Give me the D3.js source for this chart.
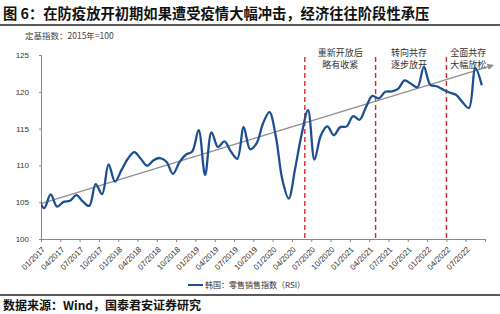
<!DOCTYPE html>
<html>
<head>
<meta charset="utf-8">
<script src="https://cdn.jsdelivr.net/npm/d3@7"></script>
<style>
  body { margin: 0; background: #fff; }
  text { font-family: 'Liberation Sans', Arial, sans-serif; fill: #333; }
  .cjk { font-family: 'Noto Sans CJK SC', sans-serif; }
</style>
</head>
<body>
<div id="chart-area"></div>
<script>
// page size and plot margins
const W = 500;
const H = 314;
const margin = { left: 41, right: 15, top: 55, bottom: 75 };
const width = W - margin.left - margin.right;
const height = H - margin.top - margin.bottom;

// monthly retail sales index (RSI), first value is 12/2016 (clipped by the axis)
const firstMonth = -1;
const rsiValues = [
  105.9,
  104.2, 106.05, 104.4, 105.05, 105.2, 105.95, 105.1, 104.5, 107.45, 106.1, 110.15, 107.8,
  109.35, 110.9, 111.8, 110.9, 109.95, 110.7, 111.0, 110.5, 108.85, 110.4, 111.45, 111.9,
  114.8, 108.7, 114.5, 112.5, 113.25, 111.9, 110.9, 115.2, 112.2, 113.0, 115.7, 117.25,
  113.9, 108.1, 105.5, 109.6, 114.2, 117.5, 110.8, 114.1, 115.3, 114.1, 115.2, 115.3,
  116.7, 116.2, 117.9, 119.45, 119.1, 120.0, 120.05, 120.4, 121.55, 121.1, 120.6, 123.4,
  120.95, 120.75, 120.3, 119.9, 119.6, 118.6, 117.8, 123.2, 120.9,
];

// x tick labels, one every 3 months starting 01/2017
const tickLabels = [
  '01/2017', '04/2017', '07/2017', '10/2017',
  '01/2018', '04/2018', '07/2018', '10/2018',
  '01/2019', '04/2019', '07/2019', '10/2019',
  '01/2020', '04/2020', '07/2020', '10/2020',
  '01/2021', '04/2021', '07/2021', '10/2021',
  '01/2022', '04/2022', '07/2022',
];
const yTicks = [100, 105, 110, 115, 120, 125];

// trend arrow (month index from 01/2017, value)
const trendMonths = [0, 70.2];
const trendValues = [104.8, 123.6];

// reopening phases: dashed line at month start, label position
const phaseMonths = [41, 52, 63]; // 06/2020, 05/2021, 04/2022
const phaseLabelMonths = [46.5, 57.2, 66.4];
const phaseLabels = [
  ['重新开放后', '略有收紧'],
  ['转向共存', '逐步放开'],
  ['全面共存', '大幅放松'],
];

const data = rsiValues.map((v, i) => ({ m: firstMonth + i, v: v }));

const svg = d3
  .select('#chart-area')
  .append('svg')
  .attr('width', W)
  .attr('height', H);

// header
svg.append('text')
  .attr('class', 'cjk')
  .attr('x', 3)
  .attr('y', 18.5)
  .attr('font-size', 14.3)
  .attr('font-weight', 700)
  .style('fill', '#111')
  .text('图 6：在防疫放开初期如果遭受疫情大幅冲击，经济往往阶段性承压');

svg.append('line')
  .attr('x1', 0).attr('x2', W)
  .attr('y1', 25).attr('y2', 25)
  .attr('stroke', '#222')
  .attr('stroke-width', 1.5);

svg.append('text')
  .attr('class', 'cjk')
  .attr('x', 25)
  .attr('y', 39)
  .attr('font-size', 8.5)
  .style('fill', '#444')
  .text('定基指数：2015年=100');

const g = svg
  .append('g')
  .attr('transform', `translate(${margin.left}, ${margin.top})`);

// scales: x is month index from 01/2017, each month a band, points in the middle
const x = d3.scaleLinear().domain([0, 69]).range([0, width]);
const y = d3.scaleLinear().domain([100, 125]).range([height, 0]);

// axes
const xAxisCall = d3
  .axisBottom(x)
  .tickValues(d3.range(0, 70, 3))
  .tickSize(3)
  .tickFormat((d) => tickLabels[d / 3] || '');

const xAxis = g.append('g')
  .attr('class', 'x axis')
  .attr('transform', `translate(0, ${height})`)
  .call(xAxisCall);

xAxis.selectAll('text')
  .attr('font-size', 8)
  .attr('text-anchor', 'end')
  .attr('dx', null)
  .attr('dy', null)
  .attr('y', null)
  .attr('transform', 'translate(4, 11) rotate(-45)');

const yAxisCall = d3
  .axisLeft(y)
  .tickValues(yTicks)
  .tickSize(2)
  .tickPadding(10);

g.append('g')
  .attr('class', 'y axis')
  .call(yAxisCall)
  .selectAll('text')
  .attr('font-size', 8);

g.selectAll('.axis path, .axis line').attr('stroke', '#888');
g.selectAll('.axis text').style('fill', '#333');

// clip so the 12/2016 point stops at the y axis
g.append('clipPath')
  .attr('id', 'plot-clip')
  .append('rect')
  .attr('x', 0)
  .attr('y', -10)
  .attr('width', width)
  .attr('height', height + 10);

// phase dashed lines
g.selectAll('.phase-line')
  .data(phaseMonths)
  .enter()
  .append('line')
  .attr('class', 'phase-line')
  .attr('x1', (d) => x(d))
  .attr('x2', (d) => x(d))
  .attr('y1', 2)
  .attr('y2', height)
  .attr('stroke', '#e0262b')
  .attr('stroke-width', 1.4)
  .attr('stroke-dasharray', '5,3');

// phase labels
const phaseText = g.selectAll('.phase-label')
  .data(phaseLabels)
  .enter()
  .append('text')
  .attr('class', 'phase-label cjk')
  .attr('text-anchor', 'middle')
  .attr('font-size', 9)
  .style('fill', '#333');

phaseText.each(function (d, i) {
  const t = d3.select(this);
  d.forEach((line, j) => {
    t.append('tspan')
      .attr('x', x(phaseLabelMonths[i]))
      .attr('y', 0.5 + j * 12)
      .text(line);
  });
});

// trend arrow
svg.append('defs')
  .append('marker')
  .attr('id', 'arrow')
  .attr('viewBox', '0 0 10 10')
  .attr('refX', 8)
  .attr('refY', 5)
  .attr('markerWidth', 5)
  .attr('markerHeight', 5)
  .attr('orient', 'auto')
  .append('path')
  .attr('d', 'M0,0 L10,5 L0,10 z')
  .attr('fill', '#8f8f8f');

const trendLine = d3.line()
  .x((d) => x(d[0]))
  .y((d) => y(d[1]));

g.append('path')
  .attr('d', trendLine(d3.zip(trendMonths, trendValues)))
  .attr('fill', 'none')
  .attr('stroke', '#8f8f8f')
  .attr('stroke-width', 1.3)
  .attr('marker-end', 'url(#arrow)');

// RSI line
const line = d3
  .line()
  .x((d) => x(d.m + 0.5))
  .y((d) => y(d.v))
  .curve(d3.curveCatmullRom.alpha(0.5));

g.append('path')
  .attr('clip-path', 'url(#plot-clip)')
  .attr('d', line(data))
  .attr('fill', 'none')
  .attr('stroke', '#1f4f93')
  .attr('stroke-width', 2.3);

// legend
const legend = svg.append('g').attr('transform', 'translate(188, 285)');
legend.append('line')
  .attr('x1', 0).attr('x2', 15)
  .attr('stroke', '#1f4f93')
  .attr('stroke-width', 2);
legend.append('text')
  .attr('class', 'cjk')
  .attr('x', 17)
  .attr('y', 3)
  .attr('font-size', 8)
  .style('fill', '#333')
  .text('韩国：零售销售指数（RSI）');

// footer
svg.append('line')
  .attr('x1', 0).attr('x2', W)
  .attr('y1', 295).attr('y2', 295)
  .attr('stroke', '#222')
  .attr('stroke-width', 1.5);

svg.append('text')
  .attr('class', 'cjk')
  .attr('x', 3)
  .attr('y', 310)
  .attr('font-size', 12)
  .attr('font-weight', 700)
  .style('fill', '#111')
  .text('数据来源：Wind，国泰君安证券研究');
</script>
</body>
</html>
